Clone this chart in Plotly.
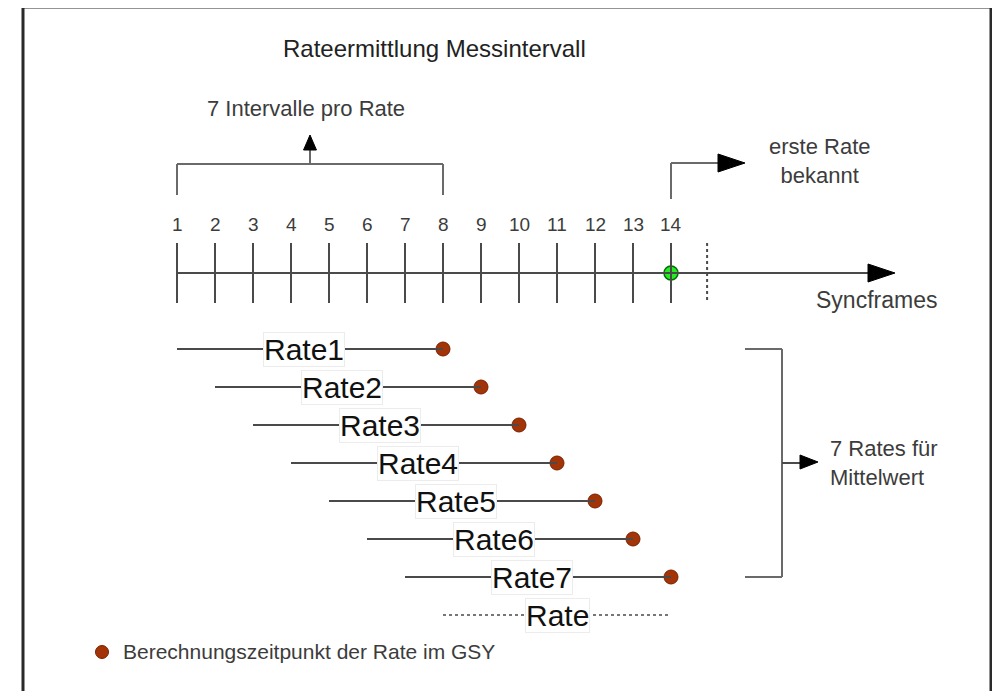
import plotly.graph_objects as go

# ---------------- data ----------------
frames = list(range(1, 15))                 # Syncframe numbers on the time axis
tick_labels = [str(f) for f in frames]
rate_names = ["Rate1", "Rate2", "Rate3", "Rate4", "Rate5", "Rate6", "Rate7"]
rate_start = [1, 2, 3, 4, 5, 6, 7]          # first frame of each rate
rate_end = [8, 9, 10, 11, 12, 13, 14]       # frame where the rate is computed
avg_name = "Rate"
avg_start, avg_end = 8, 14
first_known_frame = 14
next_frame = 15

# ------------- coordinate helpers (1 unit = one frame spacing) -------------
PX0, PY0, STEP = 177, 349, 38
def X(px):
    return 1 + (px - PX0) / STEP
def Y(py):
    return 1 + (py - PY0) / STEP

OFF = 8  # page body margin of the html page
TXT = "#3c3c3c"
LINE = "#6a6a6a"
DARK = "#4a4a4a"
DOT = "#a33408"
FONT = "Liberation Sans, Arial, sans-serif"

fig = go.Figure()
shapes = []
ann = []

def seg(x0, y0, x1, y1, color=LINE, width=2, dash="solid"):
    shapes.append(dict(type="line", x0=x0, y0=y0, x1=x1, y1=y1, xref="x", yref="y",
                       line=dict(color=color, width=width, dash=dash)))

def tri(points, color="#000"):
    p = "M " + " L ".join(f"{a},{b}" for a, b in points) + " Z"
    shapes.append(dict(type="path", path=p, xref="x", yref="y",
                       fillcolor=color, line=dict(color=color, width=1)))

# outer frame
shapes.append(dict(type="rect", x0=X(23), x1=X(991), y0=Y(7), y1=Y(720), xref="x", yref="y",
                   line=dict(color="#2a2a2a", width=3), fillcolor="rgba(0,0,0,0)"))

# title
ann.append(dict(x=X(434), y=Y(48), text="Rateermittlung Messintervall", showarrow=False,
                font=dict(size=24, color="#222", family=FONT), xanchor="center", yanchor="middle"))

# time axis
ay = Y(273)
seg(frames[0], ay, X(872), ay, color=DARK, width=2)
tri([(X(868), Y(264)), (X(895), ay), (X(868), Y(282))])
for f, lab in zip(frames, tick_labels):
    seg(f, Y(243), f, Y(303), color=DARK, width=2)
    ann.append(dict(x=f, y=Y(224), text=lab, showarrow=False,
                    font=dict(size=19, color=TXT, family=FONT), xanchor="center", yanchor="middle"))
seg(next_frame - 0.05, Y(243), next_frame - 0.05, Y(303), color=DARK, width=2, dash="dot")
fig.add_trace(go.Scatter(x=[first_known_frame], y=[ay], mode="markers",
                         marker=dict(size=14, color="#22ee22", line=dict(color="#0a6a0a", width=1.5)),
                         hoverinfo="skip", showlegend=False))
ann.append(dict(x=X(876), y=Y(300), text="Syncframes", showarrow=False,
                font=dict(size=23, color=TXT, family=FONT), xanchor="center", yanchor="middle"))

# bracket "7 Intervalle pro Rate"
by = Y(164)
seg(rate_start[0], by, rate_end[0], by)
seg(rate_start[0], by, rate_start[0], Y(195))
seg(rate_end[0], by, rate_end[0], Y(195))
bx = (rate_start[0] + rate_end[0]) / 2
seg(bx, by, bx, Y(148))
tri([(bx - 0.17, Y(150)), (bx, Y(135)), (bx + 0.17, Y(150))])
ann.append(dict(x=X(306), y=Y(108), text=f"{len(rate_names)} Intervalle pro Rate", showarrow=False,
                font=dict(size=22, color=TXT, family=FONT), xanchor="center", yanchor="middle"))

# elbow arrow "erste Rate bekannt"
ey = Y(163)
seg(first_known_frame, Y(199), first_known_frame, ey)
seg(first_known_frame, ey, X(722), ey)
tri([(X(718), Y(154)), (X(745), ey), (X(718), Y(172))])
ann.append(dict(x=X(820), y=Y(161), text="erste Rate<br>bekannt", showarrow=False,
                font=dict(size=22, color=TXT, family=FONT), xanchor="center", yanchor="middle"))

# rate lines
for i, (name, s, e) in enumerate(zip(rate_names, rate_start, rate_end)):
    r = i + 1
    seg(s, r, e, r, color=DARK, width=2)
    ann.append(dict(x=(s + e) / 2 - 0.15, y=r, text=name, showarrow=False,
                    font=dict(size=30, color="#111", family=FONT), xanchor="center", yanchor="middle",
                    bgcolor="white", bordercolor="#ececec", borderwidth=1, borderpad=0))
fig.add_trace(go.Scatter(x=rate_end, y=list(range(1, len(rate_end) + 1)), mode="markers",
                         marker=dict(size=14, color=DOT, line=dict(color="#7a2000", width=1)),
                         hoverinfo="skip", showlegend=False))

# averaged rate
ar = len(rate_names) + 1
seg(avg_start, ar, avg_end, ar, color=DARK, width=1.5, dash="dot")
ann.append(dict(x=(avg_start + avg_end) / 2, y=ar, text=avg_name, showarrow=False,
                font=dict(size=30, color="#111", family=FONT), xanchor="center", yanchor="middle",
                bgcolor="white", bordercolor="#ececec", borderwidth=1, borderpad=0))

# right bracket "7 Rates für Mittelwert"
rx0, rx1 = X(745), X(782)
seg(rx0, 1, rx1, 1)
seg(rx1, 1, rx1, len(rate_names))
seg(rx0, len(rate_names), rx1, len(rate_names))
my = (1 + len(rate_names)) / 2
seg(rx1, my, X(805), my, color=DARK)
tri([(X(800), Y(455)), (X(818), Y(462)), (X(800), Y(469))])
ann.append(dict(x=X(828), y=Y(463), text=f"{len(rate_names)} Rates für<br>Mittelwert", showarrow=False,
                font=dict(size=22, color=TXT, family=FONT), xanchor="left", yanchor="middle", align="left"))

# legend
fig.add_trace(go.Scatter(x=[X(102)], y=[Y(652)], mode="markers",
                         marker=dict(size=13, color=DOT, line=dict(color="#7a2000", width=1)),
                         hoverinfo="skip", showlegend=False))
ann.append(dict(x=X(121), y=Y(651), text="Berechnungszeitpunkt der Rate im GSY", showarrow=False,
                font=dict(size=21, color=TXT, family=FONT), xanchor="left", yanchor="middle"))

fig.update_layout(
    width=1000, height=691, margin=dict(l=0, r=0, t=0, b=0),
    paper_bgcolor="white", plot_bgcolor="white",
    xaxis=dict(range=[X(OFF), X(1000 + OFF)], visible=False, fixedrange=True),
    yaxis=dict(range=[Y(691 + OFF), Y(OFF)], visible=False, fixedrange=True),
    shapes=shapes, annotations=ann, showlegend=False,
)
fig.write_html("out.html")
